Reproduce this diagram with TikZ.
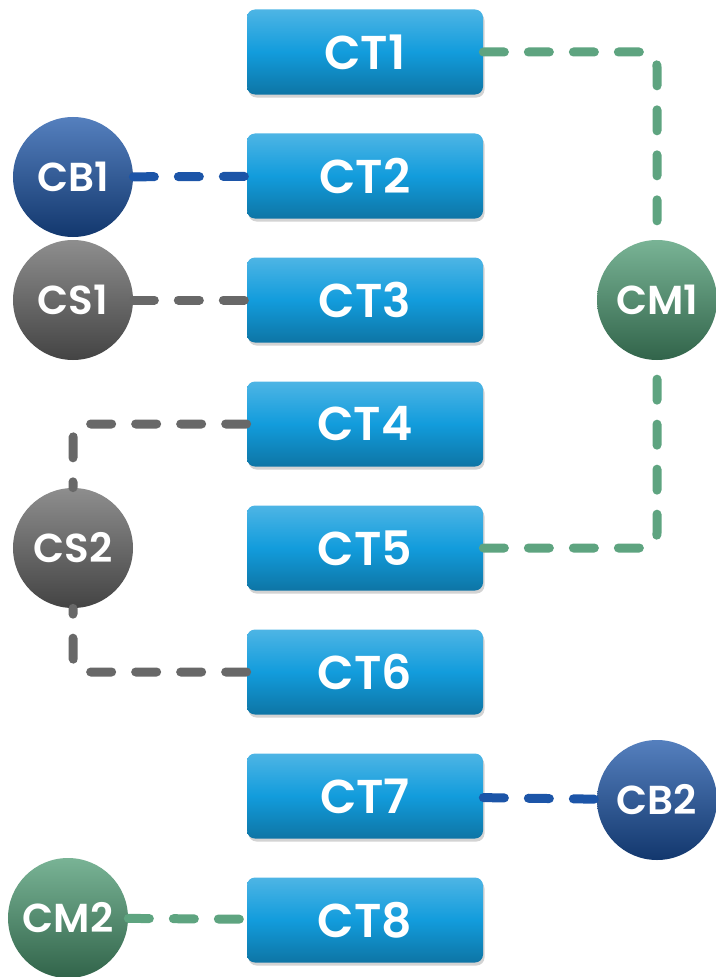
\documentclass[tikz,border=0pt]{standalone}
\usepackage{fontspec}
\setmainfont{Poppins}[BoldFont={Poppins SemiBold}]
\usetikzlibrary{shadows}
\definecolor{ctblue}{HTML}{129CDC}
\definecolor{cbblue}{HTML}{1C55A8}
\definecolor{csgray}{HTML}{686868}
\definecolor{cmgreen}{HTML}{4C9A72}
\tikzset{
  ctbox/.style={rectangle, rounded corners=1.6mm, minimum width=47.2mm, minimum height=17mm,
    top color=ctblue!75!white, bottom color=ctblue!75!black, middle color=ctblue,
    text=white, font=\fontsize{27}{27}\selectfont\bfseries,
    drop shadow={shadow xshift=0.3mm, shadow yshift=-0.6mm, opacity=0.35}},
  ball/.style={circle, minimum size=24mm, inner sep=0pt, text=white,
    font=\fontsize{23}{23}\selectfont\bfseries,
    top color=#1!75!white, bottom color=#1!65!black},
  link/.style={line width=1.8mm, line cap=round, dash pattern=on 4.2mm off 4.8mm, draw=#1},
}
\begin{document}
\begin{tikzpicture}[x=0.2mm, y=-0.2mm]
  % frame
  \useasboundingbox (0,0) rectangle (716,977);
  % boxes
  \foreach \i in {1,...,8}{
      \node[ctbox] (ct\i) at (365,{52+124*(\i-1)}) {CT\i};
    }
  % circles
  \node[ball=cbblue] (cb1) at (73,177) {CB1};
  \node[ball=csgray] (cs1) at (73,300) {CS1};
  \node[ball=csgray] (cs2) at (73,548) {CS2};
  \node[ball=cmgreen] (cm1) at (657,300) {CM1};
  \node[ball=cbblue] (cb2) at (657,800) {CB2};
  \node[ball=cmgreen] (cm2) at (68,918) {CM2};
  % links
  \draw[link=cbblue] (cb1) -- (ct2);
  \draw[link=csgray] (cs1) -- (ct3);
  \draw[link=cbblue] (ct7) -- (cb2);
  \draw[link=cmgreen!90!white] (cm2) -- (ct8);
  \draw[link=cmgreen!90!white, rounded corners=3mm] (ct1.east) -| (cm1.north);
  \draw[link=cmgreen!90!white, rounded corners=3mm] (ct5.east) -| (cm1.south);
  \draw[link=csgray, rounded corners=3mm] (ct4.west) -| (cs2.north);
  \draw[link=csgray, rounded corners=3mm] (ct6.west) -| (cs2.south);
\end{tikzpicture}
\end{document}
